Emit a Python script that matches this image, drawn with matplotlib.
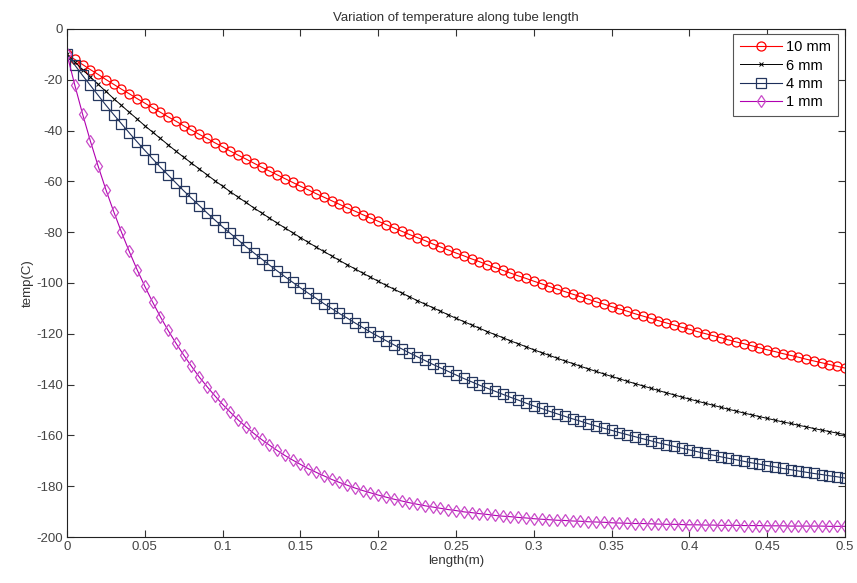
import matplotlib
matplotlib.use('Agg')
import matplotlib.pyplot as plt
import numpy as np

plt.rcParams['font.family'] = ['Liberation Sans', 'DejaVu Sans']
plt.rcParams['axes.unicode_minus'] = False

# tube length positions (m), one marker every 5 mm
length = np.linspace(0, 0.5, 101)

temp_10mm = [-10.0, -12.0, -14.0, -16.0, -17.9, -19.9, -21.8, -23.7, -25.5, -27.4,
             -29.2, -31.0, -32.8, -34.6, -36.3, -38.1, -39.8, -41.5, -43.1, -44.8,
             -46.4, -48.1, -49.7, -51.2, -52.8, -54.4, -55.9, -57.4, -58.9, -60.4,
             -61.9, -63.3, -64.8, -66.2, -67.6, -69.0, -70.4, -71.7, -73.1, -74.4,
             -75.7, -77.0, -78.3, -79.6, -80.9, -82.1, -83.3, -84.6, -85.8, -87.0,
             -88.2, -89.3, -90.5, -91.6, -92.8, -93.9, -95.0, -96.1, -97.2, -98.2,
             -99.3, -100.3, -101.4, -102.4, -103.4, -104.4, -105.4, -106.4, -107.4, -108.3,
             -109.3, -110.2, -111.1, -112.1, -113.0, -113.9, -114.8, -115.7, -116.5, -117.4,
             -118.2, -119.1, -119.9, -120.7, -121.5, -122.4, -123.2, -123.9, -124.7, -125.5,
             -126.3, -127.0, -127.8, -128.5, -129.2, -130.0, -130.7, -131.4, -132.1, -132.8,
             -133.5]

temp_6mm = [-10.0, -13.0, -16.0, -18.9, -21.8, -24.6, -27.4, -30.1, -32.8, -35.4,
            -38.1, -40.6, -43.1, -45.6, -48.1, -50.5, -52.8, -55.1, -57.4, -59.7,
            -61.9, -64.1, -66.2, -68.3, -70.4, -72.4, -74.4, -76.4, -78.3, -80.2,
            -82.1, -84.0, -85.8, -87.6, -89.3, -91.1, -92.8, -94.4, -96.1, -97.7,
            -99.3, -100.9, -102.4, -103.9, -105.4, -106.9, -108.3, -109.7, -111.1, -112.5,
            -113.9, -115.2, -116.5, -117.8, -119.1, -120.3, -121.5, -122.8, -123.9, -125.1,
            -126.3, -127.4, -128.5, -129.6, -130.7, -131.7, -132.8, -133.8, -134.8, -135.8,
            -136.8, -137.7, -138.7, -139.6, -140.5, -141.4, -142.3, -143.2, -144.0, -144.9,
            -145.7, -146.5, -147.3, -148.1, -148.9, -149.7, -150.4, -151.2, -151.9, -152.6,
            -153.3, -154.0, -154.7, -155.3, -156.0, -156.6, -157.3, -157.9, -158.5, -159.1,
            -159.7]

temp_4mm = [-10.0, -14.2, -18.3, -22.2, -26.1, -30.0, -33.7, -37.3, -40.9, -44.4,
            -47.8, -51.1, -54.4, -57.5, -60.6, -63.7, -66.6, -69.5, -72.4, -75.2,
            -77.9, -80.5, -83.1, -85.7, -88.1, -90.5, -92.9, -95.2, -97.5, -99.7,
            -101.9, -104.0, -106.0, -108.1, -110.0, -112.0, -113.8, -115.7, -117.5, -119.3,
            -121.0, -122.7, -124.3, -125.9, -127.5, -129.0, -130.5, -132.0, -133.4, -134.8,
            -136.2, -137.6, -138.9, -140.2, -141.4, -142.6, -143.8, -145.0, -146.1, -147.3,
            -148.4, -149.4, -150.5, -151.5, -152.5, -153.5, -154.4, -155.4, -156.3, -157.2,
            -158.0, -158.9, -159.7, -160.5, -161.3, -162.1, -162.9, -163.6, -164.3, -165.0,
            -165.7, -166.4, -167.1, -167.7, -168.4, -169.0, -169.6, -170.2, -170.8, -171.3,
            -171.9, -172.4, -173.0, -173.5, -174.0, -174.5, -175.0, -175.4, -175.9, -176.3,
            -176.8]

temp_1mm = [-10.0, -22.1, -33.5, -44.1, -54.0, -63.3, -71.9, -80.0, -87.6, -94.7,
            -101.3, -107.5, -113.3, -118.7, -123.7, -128.4, -132.8, -137.0, -140.8, -144.4,
            -147.8, -150.9, -153.9, -156.6, -159.2, -161.6, -163.8, -165.9, -167.9, -169.7,
            -171.4, -173.1, -174.5, -175.9, -177.3, -178.5, -179.6, -180.7, -181.7, -182.6,
            -183.5, -184.3, -185.1, -185.8, -186.5, -187.1, -187.7, -188.2, -188.7, -189.2,
            -189.6, -190.1, -190.4, -190.8, -191.1, -191.5, -191.8, -192.0, -192.3, -192.5,
            -192.8, -193.0, -193.2, -193.4, -193.5, -193.7, -193.8, -194.0, -194.1, -194.2,
            -194.4, -194.5, -194.6, -194.7, -194.7, -194.8, -194.9, -195.0, -195.0, -195.1,
            -195.2, -195.2, -195.3, -195.3, -195.4, -195.4, -195.4, -195.5, -195.5, -195.5,
            -195.6, -195.6, -195.6, -195.7, -195.7, -195.7, -195.7, -195.7, -195.8, -195.8,
            -195.8]

labels = ['10 mm', '6 mm', '4 mm', '1 mm']

fig = plt.figure(figsize=(8.57, 5.83), dpi=100)
ax = fig.add_axes([0.0782, 0.0789, 0.9078, 0.8714])

ax.plot(length, temp_10mm, color='red', lw=0.8, marker='o', ms=6.5, mfc='none',
        mec='red', mew=0.9, label=labels[0])
ax.plot(length, temp_6mm, color='black', lw=0.7, marker='x', ms=3.5, mew=0.7,
        label=labels[1])
ax.plot(length, temp_4mm, color='#1c2e5a', lw=0.8, marker='s', ms=6.5, mfc='none',
        mec='#25375f', mew=0.9, label=labels[2])
ax.plot(length, temp_1mm, color='#b000b0', lw=0.8, marker='d', ms=6.5, mfc='none',
        mec='#c84ac8', mew=0.9, label=labels[3])

ax.set_xlim(0, 0.5)
ax.set_ylim(-200, 0)
ax.set_xticks(np.arange(0, 0.501, 0.05))
ax.set_xticklabels(['0', '0.05', '0.1', '0.15', '0.2', '0.25', '0.3', '0.35', '0.4', '0.45', '0.5'])
ax.set_yticks(np.arange(-200, 1, 20))
ax.tick_params(direction='in', length=5, width=0.8, top=True, right=True,
               labelsize=9.5, colors='#333333', labelcolor='#444444', pad=3)
for s in ax.spines.values():
    s.set_linewidth(0.8)
    s.set_color('#222222')

ax.set_title('Variation of temperature along tube length', fontsize=9.5,
             color='#333333', pad=6)
ax.set_xlabel('length(m)', fontsize=9.5, color='#333333', labelpad=1)
ax.set_ylabel('temp(C)', fontsize=9.5, color='#333333', labelpad=2)

leg = ax.legend(loc='upper right', bbox_to_anchor=(0.9965, 0.9995), fontsize=10.5,
                fancybox=False, framealpha=1, edgecolor='#555555',
                handlelength=2.9, handletextpad=0.3, borderpad=0.45,
                labelspacing=0.3, borderaxespad=0.3)
leg.get_frame().set_linewidth(0.8)

fig.savefig('out.png', dpi=100)
